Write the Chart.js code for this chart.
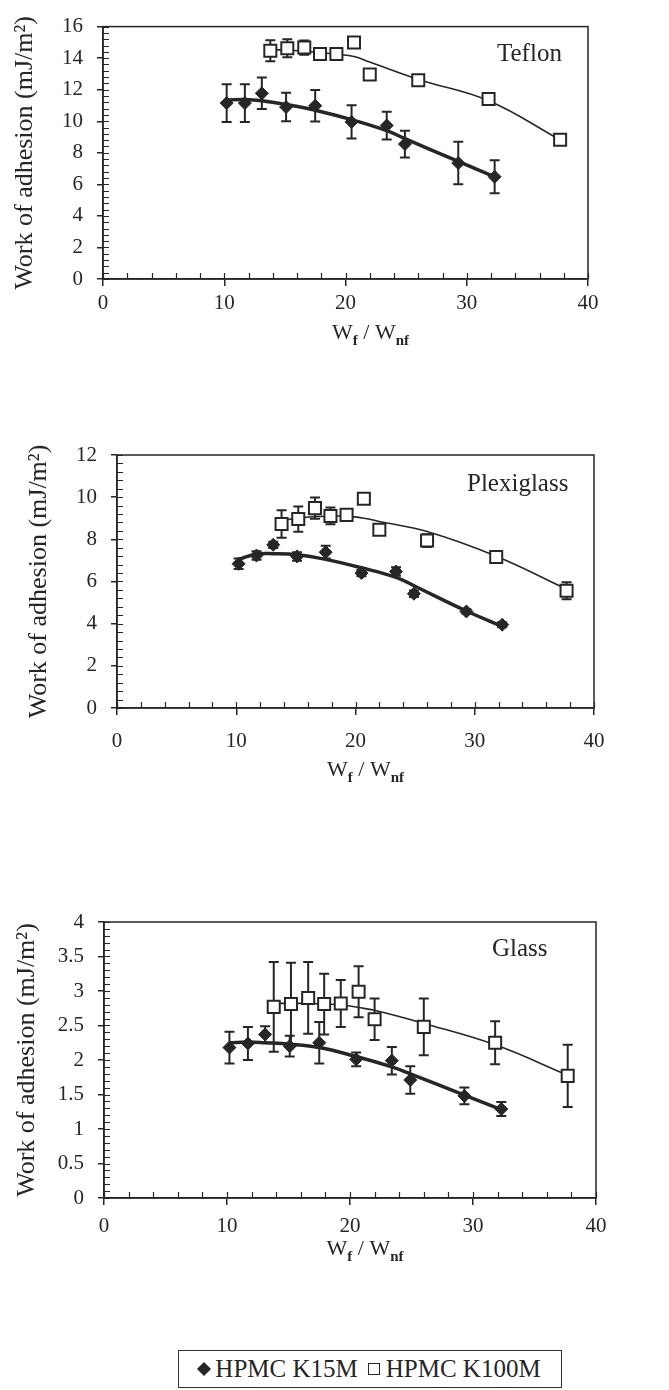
<!DOCTYPE html>
<html>
<head>
<meta charset="utf-8">
<script src="https://cdn.jsdelivr.net/npm/chart.js@4.4.0/dist/chart.umd.min.js"></script>
<style>
  body { margin: 0; background: #fff; width: 669px; height: 1390px; position: relative; overflow: hidden;
         font-family: "Liberation Serif", "Times New Roman", serif; color: #262626; }
  .panel { position: absolute; left: 0; }
  #legend { position: absolute; left: 178px; top: 1350px; width: 384px; height: 38px; border: 1.5px solid #333;
            box-sizing: border-box; font-size: 25px; line-height: 35px; text-align: center; white-space: nowrap; }
  .dia { display: inline-block; width: 10px; height: 10px; background: #262626; transform: rotate(45deg); margin: 0 6px 3px 0; }
  .sq { display: inline-block; width: 10px; height: 10px; border: 1.5px solid #262626; margin: 0 6px 2px 10px; }
</style>
</head>
<body>
<div class="panel" style="top:0px"><canvas id="teflon" width="669" height="370"></canvas></div>
<div class="panel" style="top:420px"><canvas id="plexi" width="669" height="380"></canvas></div>
<div class="panel" style="top:890px"><canvas id="glass" width="669" height="400"></canvas></div>
<div id="legend"><span class="dia"></span>HPMC K15M<span class="sq"></span>HPMC K100M</div>
<script>
// W_f / W_nf values of each polymer
const xK15M = [10.2, 11.7, 13.1, 15.1, 17.5, 20.5, 23.4, 24.9, 29.3, 32.3];
const xK100M = [13.8, 15.2, 16.6, 17.9, 19.25, 20.7, 22.0, 26.0, 31.8, 37.7];

// Teflon
const teflonK15M = [11.15, 11.15, 11.77, 10.9, 10.98, 9.96, 9.73, 8.55, 7.35, 6.48];
const teflonK15MErr = [1.2, 1.2, 1.0, 0.9, 1.0, 1.06, 0.88, 0.85, 1.35, 1.05];
const teflonK100M = [14.47, 14.63, 14.67, 14.26, 14.26, 14.99, 12.97, 12.6, 11.41, 8.82];
const teflonK100MErr = [0.66, 0.57, 0.45, 0.1, 0.1, 0.1, 0.1, 0.1, 0.1, 0.2];
const teflonK15MFit = [11.35, 11.38, 11.3, 11.06, 10.7, 10.1, 9.4, 8.9, 7.45, 6.48];
const teflonK100MFit = [14.55, 14.5, 14.45, 14.35, 14.25, 14.1, 13.75, 12.65, 11.3, 8.82];

// Plexiglass
const plexiK15M = [6.84, 7.23, 7.74, 7.19, 7.39, 6.4, 6.47, 5.42, 4.58, 3.95];
const plexiK15MErr = [0.25, 0.2, 0.15, 0.2, 0.3, 0.15, 0.2, 0.15, 0.1, 0.12];
const plexiK100M = [8.73, 8.96, 9.48, 9.11, 9.16, 9.92, 8.45, 7.94, 7.16, 5.56];
const plexiK100MErr = [0.65, 0.6, 0.5, 0.4, 0.15, 0.2, 0.1, 0.3, 0.15, 0.4];
const plexiK15MFit = [7.05, 7.3, 7.32, 7.27, 7.05, 6.65, 6.2, 5.8, 4.6, 3.87];
const plexiK100MFit = [8.9, 9.0, 9.08, 9.1, 9.1, 9.0, 8.85, 8.37, 7.2, 5.64];

// Glass
const glassK15M = [2.18, 2.24, 2.37, 2.2, 2.25, 2.01, 1.99, 1.71, 1.48, 1.29];
const glassK15MErr = [0.23, 0.24, 0.12, 0.15, 0.3, 0.1, 0.2, 0.2, 0.12, 0.1];
const glassK100M = [2.77, 2.81, 2.9, 2.81, 2.82, 2.99, 2.59, 2.48, 2.25, 1.77];
const glassK100MErr = [0.65, 0.6, 0.52, 0.44, 0.34, 0.37, 0.3, 0.41, 0.31, 0.45];
const glassK15MFit = [2.25, 2.26, 2.25, 2.23, 2.18, 2.05, 1.9, 1.8, 1.49, 1.28];
const glassK100MFit = [2.82, 2.82, 2.82, 2.81, 2.8, 2.76, 2.72, 2.53, 2.22, 1.78];

const ink = '#262626';
const serif = '"Liberation Serif", "Times New Roman", serif';

function pts(xs, ys) {
  return xs.map((x, i) => ({ x: x, y: ys[i] }));
}

// frame, inner ticks, error bars and the texts Chart.js can't do (subscripts)
const decor = {
  id: 'decor',
  beforeDatasetsDraw(chart, args, opts) {
    const { ctx, chartArea: a, scales: { x, y } } = chart;
    ctx.save();
    ctx.strokeStyle = ink;
    ctx.lineWidth = 1.5;
    ctx.strokeRect(a.left, a.top, a.right - a.left, a.bottom - a.top);
    ctx.lineWidth = 1.2;
    ctx.beginPath();
    for (let v = x.min; v <= x.max + 1e-6; v += opts.xMinor) {
      const px = Math.round(x.getPixelForValue(v)) + 0.5;
      ctx.moveTo(px, a.bottom); ctx.lineTo(px, a.bottom - 6);
    }
    for (let v = y.min; v <= y.max + 1e-6; v += opts.yMinor) {
      const py = Math.round(y.getPixelForValue(v)) + 0.5;
      ctx.moveTo(a.left, py); ctx.lineTo(a.left + 6, py);
    }
    ctx.stroke();
    // error bars
    ctx.lineWidth = 2;
    chart.data.datasets.forEach(ds => {
      if (!ds.errors) return;
      ds.data.forEach((p, i) => {
        const e = ds.errors[i];
        const px = x.getPixelForValue(p.x);
        const top = y.getPixelForValue(p.y + e), bot = y.getPixelForValue(p.y - e);
        ctx.beginPath();
        ctx.moveTo(px, top); ctx.lineTo(px, bot);
        ctx.moveTo(px - 5, top); ctx.lineTo(px + 5, top);
        ctx.moveTo(px - 5, bot); ctx.lineTo(px + 5, bot);
        ctx.stroke();
      });
    });
    ctx.restore();
  },
  afterDraw(chart, args, opts) {
    const { ctx, chartArea: a } = chart;
    ctx.save();
    ctx.fillStyle = ink;
    ctx.textBaseline = 'alphabetic';
    ctx.font = '25px ' + serif;
    ctx.fillText(opts.label, opts.labelX, opts.labelY);
    // x axis title: W_f / W_nf
    const parts = [['W', 'normal 22px', 0], ['f', 'bold 15px', 6], [' / W', 'normal 22px', 0], ['nf', 'bold 15px', 6]];
    let w = 0;
    parts.forEach(p => { ctx.font = p[1] + ' ' + serif; w += ctx.measureText(p[0]).width; });
    let cx = (a.left + a.right) / 2 + opts.titleShift - w / 2;
    const base = a.bottom + opts.titleGap;
    parts.forEach(p => {
      ctx.font = p[1] + ' ' + serif;
      ctx.fillText(p[0], cx, base + p[2]);
      cx += ctx.measureText(p[0]).width;
    });
    ctx.restore();
  }
};

function makePanel(id, panelTop, area, yMax, yStep, yMinor, k15, k15Err, k100, k100Err, k15Fit, k100Fit, label, look) {
  const canvas = document.getElementById(id);
  const H = canvas.height;
  const tickFont = { family: serif, size: 21 };
  return new Chart(canvas, {
    type: 'scatter',
    data: {
      datasets: [
        { label: 'HPMC K15M', data: pts(xK15M, k15), errors: k15Err, pointStyle: 'rectRot', pointRadius: 6.5,
          backgroundColor: ink, borderColor: ink, borderWidth: 1 },
        { label: 'HPMC K100M', data: pts(xK100M, k100), errors: k100Err, pointStyle: 'rect', pointRadius: 8.5,
          backgroundColor: '#fff', borderColor: ink, borderWidth: 2 },
        { label: 'K15M fit', data: pts(xK15M, k15Fit), showLine: true, pointRadius: 0, borderColor: ink,
          borderWidth: 3.5, tension: 0.4 },
        { label: 'K100M fit', data: pts(xK100M, k100Fit), showLine: true, pointRadius: 0, borderColor: ink,
          borderWidth: 1.6, tension: 0.4 }
      ]
    },
    options: {
      responsive: false,
      animation: false,
      devicePixelRatio: 1,
      layout: { padding: { left: 0, top: area.top - panelTop, right: 669 - area.right, bottom: 0 } },
      plugins: {
        legend: { display: false },
        tooltip: { enabled: false },
        decor: { xMinor: 2, yMinor: yMinor, label: label.text, labelX: label.x, labelY: label.y - panelTop,
                 titleShift: look.titleShift, titleGap: look.titleGap }
      },
      scales: {
        x: {
          type: 'linear', min: 0, max: 40,
          ticks: { stepSize: 10, font: tickFont, color: ink, padding: look.xPad, maxRotation: 0 },
          grid: { drawOnChartArea: false, drawTicks: true, tickLength: 7, color: ink, lineWidth: 1.5 },
          border: { display: true, color: ink, width: 1.5 },
          afterFit(s) { s.height = H - (area.bottom - panelTop); }
        },
        y: {
          min: 0, max: yMax,
          ticks: { stepSize: yStep, font: tickFont, color: ink, padding: 14, callback: v => String(v) },
          grid: { drawOnChartArea: false, drawTicks: true, tickLength: 6, color: ink, lineWidth: 1.5 },
          border: { display: true, color: ink, width: 1.5 },
          title: { display: true, text: 'Work of adhesion (mJ/m²)', color: ink, font: { family: serif, size: 26 },
                   padding: { top: look.yTitlePad, bottom: 0 } },
          afterFit(s) { s.width = area.left; }
        }
      }
    },
    plugins: [decor]
  });
}

makePanel('teflon', 0, { left: 103, top: 22, right: 588, bottom: 279 }, 16, 2, 0.4,
  teflonK15M, teflonK15MErr, teflonK100M, teflonK100MErr, teflonK15MFit, teflonK100MFit,
  { text: 'Teflon', x: 497, y: 61 }, { xPad: 5, titleGap: 60, titleShift: 25, yTitlePad: 10 });
makePanel('plexi', 420, { left: 117, top: 455, right: 594, bottom: 708 }, 12, 2, 0.4,
  plexiK15M, plexiK15MErr, plexiK100M, plexiK100MErr, plexiK15MFit, plexiK100MFit,
  { text: 'Plexiglass', x: 467, y: 491 }, { xPad: 14, titleGap: 68, titleShift: 10, yTitlePad: 24 });
makePanel('glass', 890, { left: 104, top: 922, right: 596, bottom: 1198 }, 4, 0.5, 0.1,
  glassK15M, glassK15MErr, glassK100M, glassK100MErr, glassK15MFit, glassK100MFit,
  { text: 'Glass', x: 492, y: 956 }, { xPad: 9, titleGap: 57, titleShift: 15, yTitlePad: 12 });
</script>
</body>
</html>
